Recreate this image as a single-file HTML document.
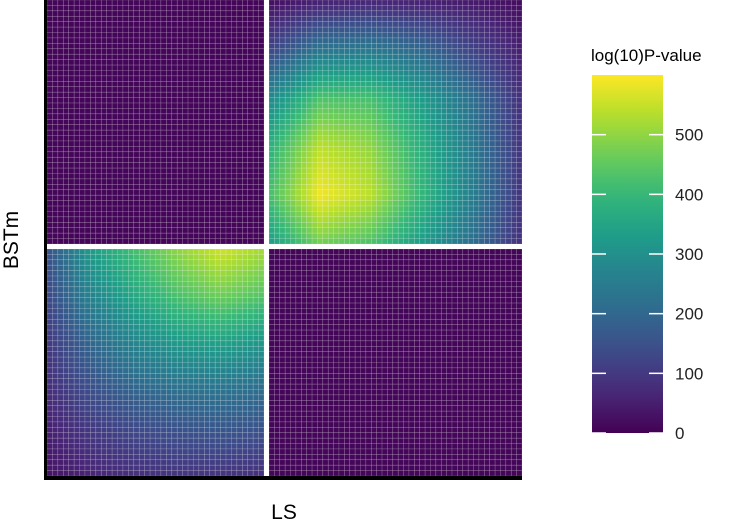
<!DOCTYPE html>
<html><head><meta charset="utf-8"><style>
body{margin:0;background:#fff;width:750px;height:525px;overflow:hidden;font-family:"Liberation Sans",sans-serif}
</style></head><body>
<svg id="c" width="750" height="525" xmlns="http://www.w3.org/2000/svg"></svg>
<script>
// Coarse value grids (rows top->bottom, cols left->right)
const panelTopRight = [
 [20,50,60,50,40,20],
 [120,230,240,200,120,50],
 [280,430,420,330,220,80],
 [380,540,500,380,250,90],
 [420,590,540,400,260,90],
 [330,470,430,330,220,80]];
const panelBottomLeft = [
 [150,330,420,500,560,520],
 [130,270,360,430,470,440],
 [100,200,280,330,350,320],
 [80,150,200,230,240,220],
 [50,100,130,150,160,150],
 [30,60,80,90,90,80]];
const panelTopLeft = [[8,8],[8,8]];
const panelBottomRight = [[8,8],[8,8]];
const legendTicks = [0,100,200,300,400,500];
const vmax = 600;

const NS="http://www.w3.org/2000/svg";
const svg=document.getElementById('c');
function mk(t,a,p){const e=document.createElementNS(NS,t);for(const k in a)e.setAttribute(k,a[k]);(p||svg).appendChild(e);return e;}
const vir=[[68,1,84],[72,40,120],[62,74,137],[49,104,142],[38,130,142],[31,158,137],[53,183,121],[109,205,89],[180,222,44],[253,231,37]];
function col(v){let t=Math.max(0,Math.min(1,v/vmax))*(vir.length-1);const i=Math.min(Math.floor(t),vir.length-2),f=t-i;
 const c=vir[i].map((x,k)=>Math.round(x+(vir[i+1][k]-x)*f));return `rgb(${c})`;}
function sample(g,u,v){const R=g.length-1,C=g[0].length-1;const y=v*R,x=u*C;const i=Math.min(Math.floor(y),R-1),j=Math.min(Math.floor(x),C-1);
 const fy=y-i,fx=x-j;return g[i][j]*(1-fx)*(1-fy)+g[i][j+1]*fx*(1-fy)+g[i+1][j]*(1-fx)*fy+g[i+1][j+1]*fx*fy;}
function panel(g,x0,y0,x1,y1,name){
 const grp=mk('g',{});
 
 
 const nx=Math.round((x1-x0)/5.4),ny=Math.round((y1-y0)/5.4);const w=(x1-x0)/nx,h=(y1-y0)/ny;
 for(let r=0;r<ny;r++)for(let c=0;c<nx;c++){
  const val=sample(g,(c+0.5)/nx,(r+0.5)/ny);
  const e=mk('rect',{x:x0+c*w,y:y0+r*h,width:w,height:h,fill:col(val),stroke:'rgba(255,255,255,0.22)','stroke-width':0.6},grp);
  
  
 }
}
panel(panelTopLeft,47,0,264,244,'panel-top-left');
panel(panelTopRight,269,0,522,244,'panel-top-right');
panel(panelBottomLeft,47,249,264,476,'panel-bottom-left');
panel(panelBottomRight,269,249,522,476,'panel-bottom-right');
let e;
e=mk('rect',{x:44,y:0,width:3,height:480,fill:'#000'});

e=mk('rect',{x:44,y:476,width:478,height:4,fill:'#000'});

e=mk('text',{x:284,y:519,'font-size':21,'text-anchor':'middle',fill:'#000'});e.textContent='LS';

e=mk('text',{x:0,y:0,'font-size':21,'text-anchor':'middle',fill:'#000',transform:'translate(18,240) rotate(-90)'});e.textContent='BSTm';

// legend
const lx=592,lw=71,ly0=433,ly1=75;
const defs=mk('defs',{});const lg=mk('linearGradient',{id:'lg',x1:0,y1:1,x2:0,y2:0},defs);
for(let i=0;i<=20;i++){mk('stop',{offset:i/20,'stop-color':col(i/20*vmax)},lg);}
e=mk('rect',{x:lx,y:ly1,width:lw,height:ly0-ly1,fill:'url(#lg)'});

const sy=v=>ly0-(v/vmax)*(ly0-ly1);
legendTicks.forEach(t=>{const y=sy(t);
 mk('line',{x1:lx,x2:lx+14,y1:y,y2:y,stroke:'#fff','stroke-width':1.5});
 mk('line',{x1:lx+lw-14,x2:lx+lw,y1:y,y2:y,stroke:'#fff','stroke-width':1.5});
 const tx=mk('text',{x:lx+lw+12,y:y+6,'font-size':17,fill:'#222'});tx.textContent=t;
 
});
e=mk('text',{x:591,y:61,'font-size':17,fill:'#000'});e.textContent='log(10)P-value';

</script>
</body></html>
